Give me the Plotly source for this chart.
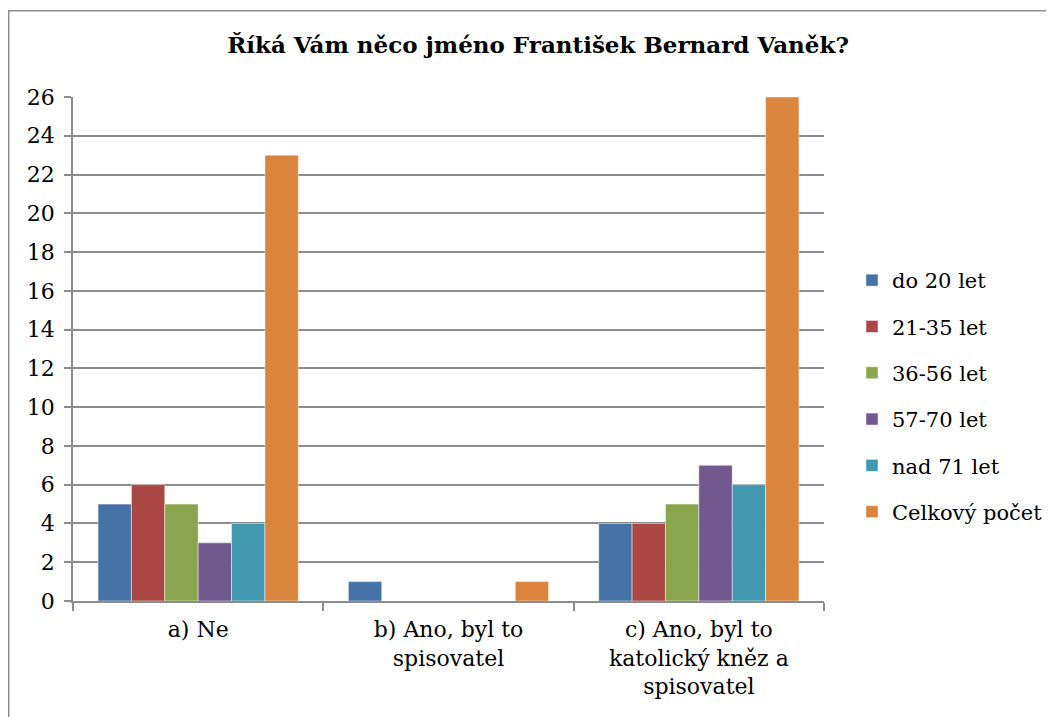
import plotly.graph_objects as go

categories = ["a) Ne", "b) Ano, byl to<br>spisovatel", "c) Ano, byl to<br>katolický kněz a<br>spisovatel"]
series_names = ["do 20 let", "21-35 let", "36-56 let", "57-70 let", "nad 71 let", "Celkový počet"]
do_20 = [5, 1, 4]
s21_35 = [6, 0, 4]
s36_56 = [5, 0, 5]
s57_70 = [3, 0, 7]
nad_71 = [4, 0, 6]
celkem = [23, 1, 26]
values = [do_20, s21_35, s36_56, s57_70, nad_71, celkem]
colors = ["#4572A7", "#AA4643", "#89A54E", "#71588F", "#4198AF", "#DB843D"]

FONT = "DejaVu Serif"

fig = go.Figure()
for name, vals, col in zip(series_names, values, colors):
    fig.add_trace(go.Bar(
        x=categories, y=vals, name=name, legendgroup=name,
        marker=dict(color=col, line=dict(color="rgba(255,255,255,0.6)", width=0.8)),
    ))

# page body has an 8px margin: figure coords = screen coords - 8
W, H = 1046, 709
L, R, T, B = 65, 230, 89, 116
pw, ph = W - L - R, H - T - B

def px2x(px):
    return (px - L) / pw

def py2y(py):
    return (H - B - py) / ph

fig.update_layout(
    width=W, height=H,
    margin=dict(l=L, r=R, t=T, b=B, autoexpand=False),
    paper_bgcolor="white", plot_bgcolor="white",
    barmode="group", bargap=0.2, bargroupgap=0,
    font=dict(family=FONT, size=21, color="black"),
    title=dict(text="<b>Říká Vám něco jméno František Bernard Vaněk?</b>",
               font=dict(family=FONT, size=23, color="black"),
               x=530 / W, xref="container", xanchor="center",
               y=1 - 37 / H, yref="container", yanchor="middle"),
    legend=dict(x=px2x(844), xanchor="left", y=py2y(388), yanchor="middle",
                font=dict(family=FONT, size=21, color="black"),
                tracegroupgap=16, bgcolor="rgba(0,0,0,0)"),
    xaxis=dict(showgrid=False, showline=True, linecolor="#8c8c8c", linewidth=1.5,
               ticks="outside", tickson="boundaries", ticklen=8, tickcolor="#8c8c8c",
               tickwidth=1.5, automargin=False, ticklabelstandoff=8,
               tickfont=dict(family=FONT, size=22, color="black")),
    yaxis=dict(range=[0, 26], dtick=2, showgrid=True, gridcolor="#8c8c8c", gridwidth=1.5,
               showline=True, linecolor="#8c8c8c", linewidth=1.5, zeroline=False,
               ticks="outside", ticklen=7, tickcolor="#8c8c8c", tickwidth=1.5,
               automargin=False,
               tickfont=dict(family=FONT, size=22, color="black"), ticklabelstandoff=5),
    shapes=[dict(type="path", xref="paper", yref="paper",
                 path=f"M {px2x(0.7)} {py2y(760)} L {px2x(0.7)} {py2y(2.7)} L {px2x(1100)} {py2y(2.7)}",
                 line=dict(color="#8c8c8c", width=1.5))],
)

fig.write_html("out.html")
